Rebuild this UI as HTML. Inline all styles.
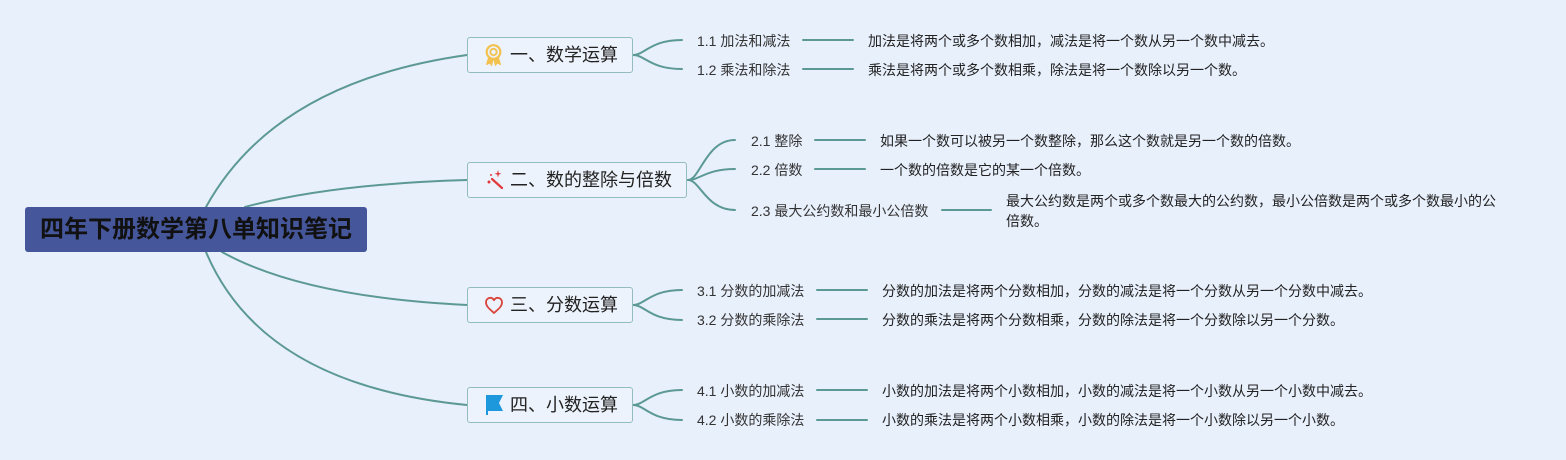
<!DOCTYPE html>
<html>
<head>
<meta charset="utf-8">
<style>
  html, body { margin:0; padding:0; }
  body { width:1566px; height:460px; background:#e8f0fc; position:relative; overflow:hidden;
         font-family:"Liberation Sans","Noto Sans CJK SC",sans-serif; }
  .abs { position:absolute; white-space:nowrap; }
  .root { position:absolute; left:25px; top:207px; width:342px; height:45px; background:#45569a;
          border-radius:3px; color:#111; font-size:24px; font-weight:bold; text-align:center; line-height:45px; }
  .box { position:absolute; background:#edf3fc; border:1.5px solid #93bcc0; border-radius:3px; box-sizing:border-box; }
  .bt { position:absolute; font-size:18px; line-height:24px; color:#222; white-space:nowrap; }
  .sub { position:absolute; font-size:14px; line-height:20px; color:#333; white-space:nowrap; }
  .desc { position:absolute; font-size:14px; line-height:20px; color:#222; white-space:nowrap; }
</style>
</head>
<body>
<svg width="1566" height="460" style="position:absolute;left:0;top:0" fill="none" stroke="#5c9994" stroke-width="2" stroke-linecap="round">
  <!-- main branches -->
  <path d="M206,207 Q275,82 467,55"/>
  <path d="M245,207 Q330,184 467,180"/>
  <path d="M222,252 Q303,297 467,305"/>
  <path d="M206,252 Q262,385 467,405"/>
  <!-- row1 -->
  <path d="M633,55 C645,55 650,40 682,40"/>
  <path d="M633,55 C645,55 650,69 682,69"/>
  <!-- row2 -->
  <path d="M688,180 C700,180 706,140 735,140"/>
  <path d="M688,180 C700,180 706,169 735,169"/>
  <path d="M688,180 C700,180 706,210 735,210"/>
  <!-- row3 -->
  <path d="M633,305 C645,305 650,290 682,290"/>
  <path d="M633,305 C645,305 650,320 682,320"/>
  <!-- row4 -->
  <path d="M633,405 C645,405 650,390 682,390"/>
  <path d="M633,405 C645,405 650,420 682,420"/>
  <!-- horizontal connectors -->
  <line x1="803" y1="40" x2="853" y2="40"/>
  <line x1="803" y1="69" x2="853" y2="69"/>
  <line x1="815" y1="140" x2="865" y2="140"/>
  <line x1="815" y1="169" x2="865" y2="169"/>
  <line x1="942" y1="210" x2="991" y2="210"/>
  <line x1="817" y1="290" x2="867" y2="290"/>
  <line x1="817" y1="319" x2="867" y2="319"/>
  <line x1="817" y1="390" x2="867" y2="390"/>
  <line x1="817" y1="420" x2="867" y2="420"/>
</svg>

<div class="root">四年下册数学第八单知识笔记</div>

<!-- main boxes -->
<div class="box" style="left:467px;top:37px;width:166px;height:36px;"></div>
<div class="box" style="left:467px;top:162px;width:220px;height:36px;"></div>
<div class="box" style="left:467px;top:287px;width:166px;height:36px;"></div>
<div class="box" style="left:467px;top:387px;width:166px;height:36px;"></div>

<!-- icons -->
<svg class="abs" style="left:484px;top:44px" width="19" height="23" viewBox="0 0 19 23">
  <path d="M5,12 L2.5,20.5 L6,19 L7.5,21.5 L9.5,14 Z" fill="#f2c14e" stroke="#f2c14e" stroke-width="1" stroke-linejoin="round"/>
  <path d="M14,12 L16.5,20.5 L13,19 L11.5,21.5 L9.5,14 Z" fill="#f2c14e" stroke="#f2c14e" stroke-width="1" stroke-linejoin="round"/>
  <circle cx="9.5" cy="8" r="6.8" fill="#edf3fc" stroke="#f2c14e" stroke-width="2.2"/>
  <circle cx="9.5" cy="8" r="3.2" fill="none" stroke="#f2c14e" stroke-width="1.9"/>
</svg>
<svg class="abs" style="left:485px;top:169px" width="20" height="22" viewBox="0 0 20 22">
  <line x1="7" y1="10" x2="17" y2="19" stroke="#e0393e" stroke-width="2.2" stroke-linecap="round"/>
  <path d="M13,1 L13.8,4 L16.5,4.8 L13.8,5.6 L13,8.5 L12.2,5.6 L9.5,4.8 L12.2,4 Z" fill="#e0393e"/>
  <circle cx="4" cy="13" r="1.5" fill="#e0393e"/>
  <circle cx="6" cy="6" r="1" fill="#e0393e"/>
</svg>
<svg class="abs" style="left:484px;top:296px" width="20" height="19" viewBox="0 0 20 19">
  <path d="M10,17 C7,14 2,11 2,6.5 C2,3.5 4,1.8 6.3,1.8 C8,1.8 9.3,2.8 10,4.2 C10.7,2.8 12,1.8 13.7,1.8 C16,1.8 18,3.5 18,6.5 C18,11 13,14 10,17 Z" fill="none" stroke="#d9453b" stroke-width="1.8" stroke-linejoin="round"/>
</svg>
<svg class="abs" style="left:485px;top:394px" width="19" height="22" viewBox="0 0 19 22">
  <path d="M1,1 L18,1 L14,9 L18,17 L3,17 L3,21 L1,21 Z" fill="#1e98dc"/>
</svg>

<!-- main box text -->
<div class="bt" style="left:510px;top:43px;">一、数学运算</div>
<div class="bt" style="left:510px;top:168px;">二、数的整除与倍数</div>
<div class="bt" style="left:510px;top:293px;">三、分数运算</div>
<div class="bt" style="left:510px;top:393px;">四、小数运算</div>

<!-- subtopics -->
<div class="sub" style="left:697px;top:31px;">1.1 加法和减法</div>
<div class="sub" style="left:697px;top:60px;">1.2 乘法和除法</div>
<div class="sub" style="left:751px;top:131px;">2.1 整除</div>
<div class="sub" style="left:751px;top:160px;">2.2 倍数</div>
<div class="sub" style="left:751px;top:201px;">2.3 最大公约数和最小公倍数</div>
<div class="sub" style="left:697px;top:281px;">3.1 分数的加减法</div>
<div class="sub" style="left:697px;top:310px;">3.2 分数的乘除法</div>
<div class="sub" style="left:697px;top:381px;">4.1 小数的加减法</div>
<div class="sub" style="left:697px;top:410px;">4.2 小数的乘除法</div>

<!-- descriptions -->
<div class="desc" style="left:868px;top:31px;">加法是将两个或多个数相加，减法是将一个数从另一个数中减去。</div>
<div class="desc" style="left:868px;top:60px;">乘法是将两个或多个数相乘，除法是将一个数除以另一个数。</div>
<div class="desc" style="left:880px;top:131px;">如果一个数可以被另一个数整除，那么这个数就是另一个数的倍数。</div>
<div class="desc" style="left:880px;top:160px;">一个数的倍数是它的某一个倍数。</div>
<div class="desc" style="left:1006px;top:191px;">最大公约数是两个或多个数最大的公约数，最小公倍数是两个或多个数最小的公<br>倍数。</div>
<div class="desc" style="left:882px;top:281px;">分数的加法是将两个分数相加，分数的减法是将一个分数从另一个分数中减去。</div>
<div class="desc" style="left:882px;top:310px;">分数的乘法是将两个分数相乘，分数的除法是将一个分数除以另一个分数。</div>
<div class="desc" style="left:882px;top:381px;">小数的加法是将两个小数相加，小数的减法是将一个小数从另一个小数中减去。</div>
<div class="desc" style="left:882px;top:410px;">小数的乘法是将两个小数相乘，小数的除法是将一个小数除以另一个小数。</div>
</body>
</html>
